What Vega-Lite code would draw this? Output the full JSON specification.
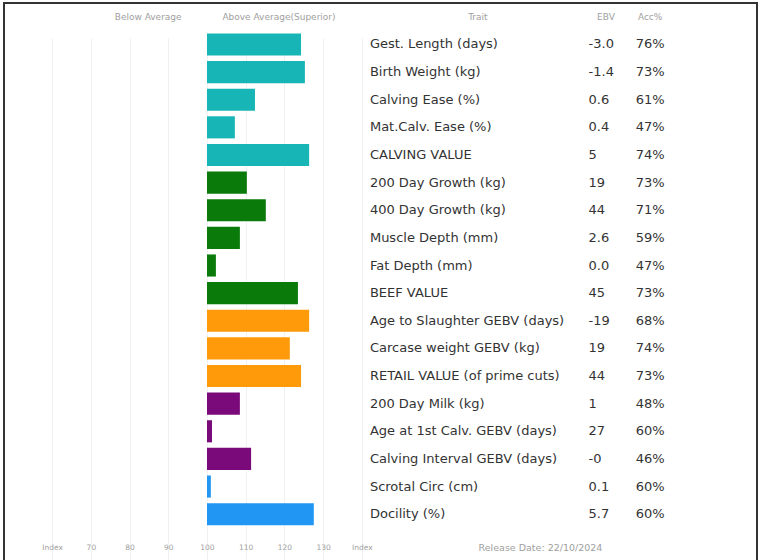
{
  "$schema": "https://vega.github.io/schema/vega-lite/v6.json",
  "autosize": {"type": "none"},
  "padding": {"left": 4, "top": 3, "right": 4, "bottom": 0},
  "width": 753,
  "height": 560,
  "background": "white",
  "view": {"stroke": "#333333", "strokeWidth": 2},
  "config": {"font": "DejaVu Sans"},
  "datasets": {
    "traits": [
      {"trait": "Gest. Length (days)", "ebv": "-3.0", "acc": "76%", "index": 124.3, "group": "Calving"},
      {"trait": "Birth Weight (kg)", "ebv": "-1.4", "acc": "73%", "index": 125.3, "group": "Calving"},
      {"trait": "Calving Ease (%)", "ebv": "0.6", "acc": "61%", "index": 112.4, "group": "Calving"},
      {"trait": "Mat.Calv. Ease (%)", "ebv": "0.4", "acc": "47%", "index": 107.2, "group": "Calving"},
      {"trait": "CALVING VALUE", "ebv": "5", "acc": "74%", "index": 126.4, "group": "Calving"},
      {"trait": "200 Day Growth (kg)", "ebv": "19", "acc": "73%", "index": 110.3, "group": "Beef"},
      {"trait": "400 Day Growth (kg)", "ebv": "44", "acc": "71%", "index": 115.2, "group": "Beef"},
      {"trait": "Muscle Depth (mm)", "ebv": "2.6", "acc": "59%", "index": 108.5, "group": "Beef"},
      {"trait": "Fat Depth (mm)", "ebv": "0.0", "acc": "47%", "index": 102.3, "group": "Beef"},
      {"trait": "BEEF VALUE", "ebv": "45", "acc": "73%", "index": 123.5, "group": "Beef"},
      {"trait": "Age to Slaughter GEBV (days)", "ebv": "-19", "acc": "68%", "index": 126.4, "group": "Retail"},
      {"trait": "Carcase weight GEBV (kg)", "ebv": "19", "acc": "74%", "index": 121.4, "group": "Retail"},
      {"trait": "RETAIL VALUE (of prime cuts)", "ebv": "44", "acc": "73%", "index": 124.3, "group": "Retail"},
      {"trait": "200 Day Milk (kg)", "ebv": "1", "acc": "48%", "index": 108.5, "group": "Maternal"},
      {"trait": "Age at 1st Calv. GEBV (days)", "ebv": "27", "acc": "60%", "index": 101.3, "group": "Maternal"},
      {"trait": "Calving Interval GEBV (days)", "ebv": "-0", "acc": "46%", "index": 111.4, "group": "Maternal"},
      {"trait": "Scrotal Circ (cm)", "ebv": "0.1", "acc": "60%", "index": 101.0, "group": "Other"},
      {"trait": "Docility (%)", "ebv": "5.7", "acc": "60%", "index": 127.6, "group": "Other"}
    ],
    "headers": [
      {"label": "Below Average", "col": "below"},
      {"label": "Above Average(Superior)", "col": "above"},
      {"label": "Trait", "col": "trait"},
      {"label": "EBV", "col": "ebv"},
      {"label": "Acc%", "col": "acc"}
    ]
  },
  "data": {"name": "traits"},
  "encoding": {
    "y": {
      "field": "trait",
      "type": "nominal",
      "sort": null,
      "axis": null,
      "scale": {
        "domain": ["__header", "Gest. Length (days)", "Birth Weight (kg)", "Calving Ease (%)", "Mat.Calv. Ease (%)", "CALVING VALUE", "200 Day Growth (kg)", "400 Day Growth (kg)", "Muscle Depth (mm)", "Fat Depth (mm)", "BEEF VALUE", "Age to Slaughter GEBV (days)", "Carcase weight GEBV (kg)", "RETAIL VALUE (of prime cuts)", "200 Day Milk (kg)", "Age at 1st Calv. GEBV (days)", "Calving Interval GEBV (days)", "Scrotal Circ (cm)", "Docility (%)"],
        "range": [0, 525],
        "paddingInner": 0.2,
        "paddingOuter": 0.1
      }
    }
  },
  "layer": [
    {
      "mark": {"type": "bar"},
      "encoding": {
        "x": {
          "field": "index",
          "type": "quantitative",
          "scale": {"domain": [47.55, 242.12], "nice": false, "zero": false},
          "axis": {
            "values": [60, 70, 80, 90, 100, 110, 120, 130, 140],
            "labelExpr": "datum.value == 60 || datum.value == 140 ? 'Index' : datum.value",
            "domain": false,
            "ticks": false,
            "grid": true,
            "gridColor": "#f1f1f1",
            "gridWidth": 1,
            "labelFont": "DejaVu Sans",
            "labelFontSize": 7.5,
            "labelColor": "#a0a0a0",
            "labelPadding": 0,
            "labelBaseline": "middle",
            "offset": -16,
            "title": "Release Date: 22/10/2024",
            "titleFont": "DejaVu Sans",
            "titleFontSize": 9.5,
            "titleFontWeight": "normal",
            "titleColor": "#a0a0a0",
            "titleX": 536,
            "titleY": 0,
            "titleAlign": "center",
            "titleBaseline": "middle"
          }
        },
        "x2": {"datum": 100},
        "color": {
          "field": "group",
          "type": "nominal",
          "legend": null,
          "scale": {
            "domain": ["Calving", "Beef", "Retail", "Maternal", "Other"],
            "range": ["#17b5b5", "#0a7a0a", "#ff9a0a", "#7a0a7a", "#2196f3"]
          }
        }
      }
    },
    {
      "mark": {"type": "text", "align": "left", "baseline": "middle", "fontSize": 13, "color": "#333333"},
      "encoding": {"x": {"datum": 142.1}, "text": {"field": "trait"}}
    },
    {
      "mark": {"type": "text", "align": "left", "baseline": "middle", "fontSize": 13, "color": "#333333"},
      "encoding": {"x": {"datum": 198.6}, "text": {"field": "ebv"}}
    },
    {
      "mark": {"type": "text", "align": "left", "baseline": "middle", "fontSize": 13, "color": "#333333"},
      "encoding": {"x": {"datum": 210.8}, "text": {"field": "acc"}}
    },
    {
      "data": {"name": "headers"},
      "transform": [{"filter": "datum.col == 'below'"}],
      "mark": {"type": "text", "align": "center", "baseline": "middle", "fontSize": 9, "color": "#a0a0a0"},
      "encoding": {"x": {"datum": 84.8}, "y": {"datum": "__header"}, "text": {"field": "label"}}
    },
    {
      "data": {"name": "headers"},
      "transform": [{"filter": "datum.col == 'above'"}],
      "mark": {"type": "text", "align": "center", "baseline": "middle", "fontSize": 9, "color": "#a0a0a0"},
      "encoding": {"x": {"datum": 118.6}, "y": {"datum": "__header"}, "text": {"field": "label"}}
    },
    {
      "data": {"name": "headers"},
      "transform": [{"filter": "datum.col == 'trait'"}],
      "mark": {"type": "text", "align": "center", "baseline": "middle", "fontSize": 9, "color": "#a0a0a0"},
      "encoding": {"x": {"datum": 170.0}, "y": {"datum": "__header"}, "text": {"field": "label"}}
    },
    {
      "data": {"name": "headers"},
      "transform": [{"filter": "datum.col == 'ebv'"}],
      "mark": {"type": "text", "align": "center", "baseline": "middle", "fontSize": 9, "color": "#a0a0a0"},
      "encoding": {"x": {"datum": 203.1}, "y": {"datum": "__header"}, "text": {"field": "label"}}
    },
    {
      "data": {"name": "headers"},
      "transform": [{"filter": "datum.col == 'acc'"}],
      "mark": {"type": "text", "align": "center", "baseline": "middle", "fontSize": 9, "color": "#a0a0a0"},
      "encoding": {"x": {"datum": 214.5}, "y": {"datum": "__header"}, "text": {"field": "label"}}
    }
  ]
}
